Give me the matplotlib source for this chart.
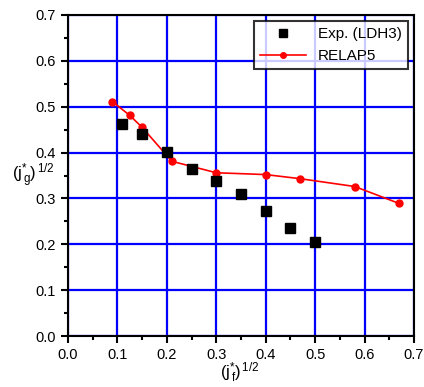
import matplotlib
matplotlib.use("Agg")
import matplotlib.pyplot as plt
from matplotlib.ticker import MultipleLocator

plt.rcParams["font.family"] = ["Liberation Sans", "DejaVu Sans"]
plt.rcParams["mathtext.fontset"] = "custom"
plt.rcParams["mathtext.rm"] = "Liberation Sans"
plt.rcParams["mathtext.it"] = "Liberation Sans"

# experimental data (LDH3)
exp_x = [0.11, 0.15, 0.20, 0.25, 0.30, 0.35, 0.40, 0.45, 0.50]
exp_y = [0.462, 0.440, 0.401, 0.365, 0.338, 0.310, 0.273, 0.235, 0.205]

# RELAP5 results
rel_x = [0.09, 0.125, 0.15, 0.21, 0.30, 0.40, 0.47, 0.58, 0.67]
rel_y = [0.511, 0.481, 0.455, 0.381, 0.356, 0.352, 0.343, 0.326, 0.289]

fig = plt.figure(figsize=(4.24, 3.87), dpi=100)
ax = fig.add_axes([68 / 424, 1 - 336 / 387, 346 / 424, 321 / 387])

ax.grid(True, color="#0000ff", linewidth=1.6, zorder=0)
ax.set_axisbelow(True)

ax.plot(rel_x, rel_y, color="red", linewidth=1.2, marker="o", markersize=5,
        label="RELAP5", zorder=3)
ax.plot(exp_x, exp_y, linestyle="none", color="black", marker="s", markersize=6.8,
        label="Exp. (LDH3)", zorder=4)

ax.set_xlim(0, 0.7)
ax.set_ylim(0, 0.7)
ax.xaxis.set_major_locator(MultipleLocator(0.1))
ax.yaxis.set_major_locator(MultipleLocator(0.1))
ax.xaxis.set_minor_locator(MultipleLocator(0.05))
ax.yaxis.set_minor_locator(MultipleLocator(0.05))
ax.tick_params(which="major", direction="out", length=5, width=1.5, labelsize=10.5)
ax.tick_params(which="minor", direction="out", length=3, width=1.5)
ax.xaxis.set_major_formatter(plt.FormatStrFormatter("%.1f"))
ax.yaxis.set_major_formatter(plt.FormatStrFormatter("%.1f"))
for s in ax.spines.values():
    s.set_linewidth(1.5)

fig.text(240 / 424, 1 - 373 / 387, r"$\mathregular{(j^{*}_{\,f})^{\,1/2}}$",
         fontsize=12, ha="center", va="center")
fig.text(33 / 424, 1 - 176 / 387, r"$\mathregular{(j^{*}_{\,g})^{\,1/2}}$",
         fontsize=12, ha="center", va="center")

handles, labels = ax.get_legend_handles_labels()
leg = ax.legend(handles[::-1], labels[::-1], loc="upper right", fontsize=11,
                frameon=True, fancybox=False, edgecolor="black",
                borderaxespad=0.4, handlelength=3, markerscale=0.8)
leg.get_frame().set_linewidth(1.5)

fig.savefig("out.png", dpi=100)
